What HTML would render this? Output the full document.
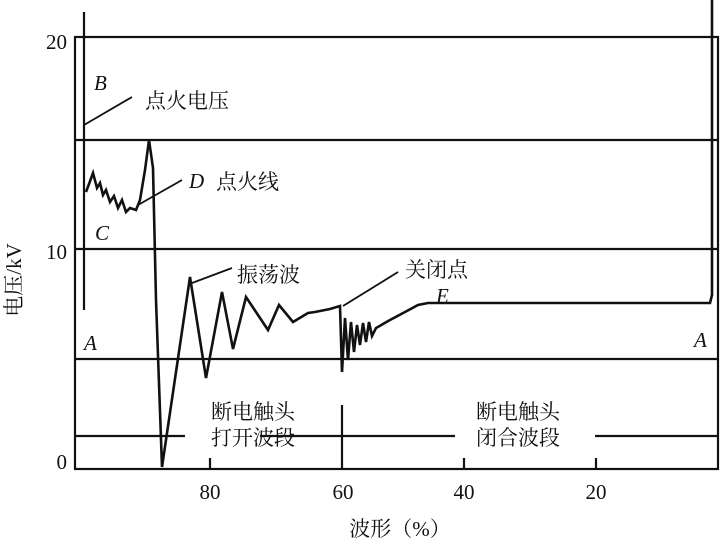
<!DOCTYPE html>
<html><head><meta charset="utf-8"><style>
body{margin:0;background:#fff;}
svg text{font-family:"Liberation Serif","Noto Serif CJK SC",serif;fill:#111;}
</style></head><body>
<svg width="720" height="548" viewBox="0 0 720 548" xmlns="http://www.w3.org/2000/svg">
<g stroke="#111" stroke-width="2.2" fill="none">
<rect x="75" y="37" width="643" height="432"/>
<line x1="75" y1="140" x2="718" y2="140"/>
<line x1="75" y1="249" x2="718" y2="249"/>
<line x1="75" y1="359" x2="718" y2="359"/>
<line x1="75" y1="436" x2="185" y2="436"/>
<line x1="260" y1="436" x2="455" y2="436"/>
<line x1="595" y1="436" x2="718" y2="436"/>
<line x1="342" y1="405" x2="342" y2="469"/>
<line x1="210" y1="458" x2="210" y2="469"/>
<line x1="464" y1="458" x2="464" y2="469"/>
<line x1="596" y1="458" x2="596" y2="469"/>
<line x1="84" y1="12" x2="84" y2="310"/>
<line x1="84" y1="125" x2="132" y2="97" stroke-width="1.8"/>
<line x1="138" y1="205" x2="182" y2="180" stroke-width="1.8"/>
<line x1="192" y1="283" x2="232" y2="268" stroke-width="1.8"/>
<line x1="343" y1="306" x2="398" y2="272" stroke-width="1.8"/>
<polyline stroke-width="2.6" points="86,192 89,184 93,173 97,188 100,183 103,195 106,190 110,202 114,196 118,208 122,200 126,212 130,208 136,210 140,200 145,170 149,140 153,168 156,300 162,467 190,277 206,378 222,292 233,349 246,297 268,330 279,305 293,322 308,313 315,312 330,309 340,306 342,372 345,318 348,360 351,322 354,352 357,325 360,345 363,323 366,342 369,322 372,336 376,328 390,320 405,312 418,305 428,303 710,303 712,295 712,0"/>
</g>
<g font-size="21">
<text x="67" y="49" text-anchor="end" font-family="Liberation Sans">20</text>
<text x="67" y="259" text-anchor="end" font-family="Liberation Sans">10</text>
<text x="67" y="469" text-anchor="end" font-family="Liberation Sans">0</text>
<text x="210" y="499" text-anchor="middle" font-family="Liberation Sans">80</text>
<text x="343" y="499" text-anchor="middle" font-family="Liberation Sans">60</text>
<text x="464" y="499" text-anchor="middle" font-family="Liberation Sans">40</text>
<text x="596" y="499" text-anchor="middle" font-family="Liberation Sans">20</text>
<text x="94" y="90" font-style="italic">B</text>
<text x="145" y="108">点火电压</text>
<text x="189" y="188" font-style="italic">D</text>
<text x="216" y="189">点火线</text>
<text x="95" y="240" font-style="italic">C</text>
<text x="84" y="350" font-style="italic">A</text>
<text x="237" y="282">振荡波</text>
<text x="405" y="277">关闭点</text>
<text x="436" y="303" font-style="italic">E</text>
<text x="694" y="347" font-style="italic">A</text>
<text x="253" y="419" text-anchor="middle">断电触头</text>
<text x="253" y="445" text-anchor="middle">打开波段</text>
<text x="518" y="419" text-anchor="middle">断电触头</text>
<text x="518" y="445" text-anchor="middle">闭合波段</text>
<text x="400" y="536" text-anchor="middle">波形（%）</text>
<text transform="translate(21,280) rotate(-90)" text-anchor="middle">电压/kV</text>
</g>
</svg>
</body></html>
